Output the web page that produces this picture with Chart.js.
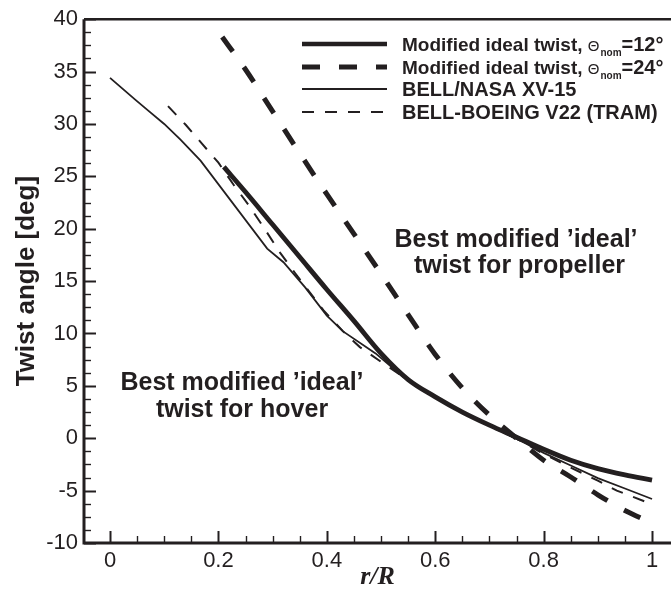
<!DOCTYPE html>
<html>
<head>
<meta charset="utf-8">
<script src="https://cdn.jsdelivr.net/npm/chart.js@4.4.1/dist/chart.umd.min.js"></script>
<style>
  html, body { margin: 0; padding: 0; background: #fff; }
  #wrap { position: relative; width: 671px; height: 593px; }
</style>
</head>
<body>
<div id="wrap"><canvas id="chart"></canvas></div>
<script>
// radial station r/R and blade twist [deg]
const rIdeal12 = [0.21, 0.25, 0.30, 0.35, 0.40, 0.45, 0.50, 0.55, 0.60, 0.65, 0.70, 0.75, 0.80, 0.85, 0.90, 0.95, 1.00]
const twistIdeal12 = [25.9, 23.5, 20.4, 17.3, 14.2, 11.2, 8.1, 5.6, 3.95, 2.5, 1.25, 0.1, -1.05, -2.1, -2.9, -3.5, -4.0]

const rIdeal24 = [0.207, 0.25, 0.30, 0.35, 0.40, 0.45, 0.50, 0.55, 0.60, 0.65, 0.70, 0.75, 0.80, 0.85, 0.90, 0.95, 1.00]
const twistIdeal24 = [38.3, 35.2, 31.2, 27.2, 23.3, 19.5, 15.7, 11.8, 8.0, 4.8, 2.2, 0.0, -2.1, -3.7, -5.4, -6.9, -8.1]

const rXV15 = [0.0, 0.047, 0.07, 0.10, 0.13, 0.167, 0.29, 0.32, 0.36, 0.40, 0.43, 0.49, 0.54, 0.60, 0.65, 0.70, 0.76, 0.80, 0.85, 0.90, 0.95, 1.00]
const twistXV15 = [34.4, 32.3, 31.3, 30.0, 28.5, 26.5, 18.1, 16.8, 14.4, 11.7, 10.2, 8.1, 5.9, 3.9, 2.5, 1.2, -0.3, -1.4, -2.6, -3.8, -4.8, -5.8]

const rV22 = [0.107, 0.14, 0.17, 0.20, 0.228, 0.255, 0.28, 0.314, 0.341, 0.363, 0.394, 0.43, 0.461, 0.50, 0.54, 0.60, 0.65, 0.70, 0.76, 0.80, 0.85, 0.90, 0.935, 1.00]
const twistV22 = [31.7, 29.9, 28.1, 26.3, 24.2, 22.3, 20.4, 17.7, 15.8, 14.3, 12.2, 10.2, 8.7, 7.3, 5.9, 3.9, 2.5, 1.2, -0.3, -1.5, -2.8, -4.05, -5.0, -6.3]

const xTicks = [0, 0.2, 0.4, 0.6, 0.8, 1]
const yTicks = [-10, -5, 0, 5, 10, 15, 20, 25, 30, 35, 40]

const INK = "#231f20"
const SANS = '"Liberation Sans", Arial, Helvetica, sans-serif'

const points = (xs, ys) => xs.map((x, i) => ({ x, y: ys[i] }))

const line = (data, width, dash, smooth) => ({
  data,
  borderColor: INK,
  borderWidth: width,
  borderDash: dash,
  pointRadius: 0,
  cubicInterpolationMode: smooth ? "monotone" : "default",
  tension: smooth ? 0.4 : 0,
  fill: false,
})

// frame and inward tick marks
const framePlugin = {
  id: "frame",
  afterDraw(chart) {
    const { ctx, chartArea: a, scales: { x, y } } = chart
    ctx.save()
    ctx.strokeStyle = INK
    ctx.lineCap = "butt"

    for (let v = 0; v <= 1.0001; v += 0.05) {
      const major = Math.abs(v / 0.2 - Math.round(v / 0.2)) < 1e-6
      const px = Math.round(x.getPixelForValue(v)) + 0.5
      ctx.lineWidth = major ? 2 : 1.4
      ctx.beginPath()
      ctx.moveTo(px, a.bottom)
      ctx.lineTo(px, a.bottom - (major ? 12 : 7))
      ctx.stroke()
    }
    for (let v = -10; v <= 40.001; v += 1.25) {
      const major = Math.abs(v / 5 - Math.round(v / 5)) < 1e-6
      const py = Math.round(y.getPixelForValue(v)) + 0.5
      ctx.lineWidth = major ? 2 : 1.4
      ctx.beginPath()
      ctx.moveTo(a.left, py)
      ctx.lineTo(a.left + (major ? 12 : 7), py)
      ctx.stroke()
    }

    ctx.lineWidth = 3
    ctx.beginPath()
    ctx.moveTo(a.left, a.top)
    ctx.lineTo(a.left, a.bottom)
    ctx.lineTo(a.right, a.bottom)
    ctx.stroke()
    ctx.lineWidth = 2.5
    ctx.beginPath()
    ctx.moveTo(a.left, a.top)
    ctx.lineTo(a.right, a.top)
    ctx.stroke()
    ctx.restore()
  },
}

// legend with subscripts, and the two text notes
const notesPlugin = {
  id: "notes",
  afterDatasetsDraw(chart) {
    const { ctx } = chart
    ctx.save()
    ctx.fillStyle = INK
    ctx.strokeStyle = INK
    ctx.textBaseline = "alphabetic"

    const rows = [
      { y: 44, width: 4.5, dash: [], nom: "12" },
      { y: 67, width: 5, dash: [18, 19], nom: "24" },
      { y: 89, width: 1.8, dash: [], text: "BELL/NASA XV-15" },
      { y: 112, width: 2, dash: [12, 11], text: "BELL-BOEING V22 (TRAM)" },
    ]
    rows.forEach((row) => {
      ctx.lineWidth = row.width
      ctx.setLineDash(row.dash)
      ctx.beginPath()
      ctx.moveTo(302, row.y)
      ctx.lineTo(387, row.y)
      ctx.stroke()
      ctx.setLineDash([])

      const base = row.y + 7
      let x = 402
      ctx.textAlign = "left"
      if (row.text) {
        ctx.font = `bold 20px ${SANS}`
        ctx.fillText(row.text, x, base)
        return
      }
      ctx.font = `bold 19px ${SANS}`
      ctx.fillText("Modified ideal twist, ", x, base)
      x += ctx.measureText("Modified ideal twist, ").width
      ctx.font = `15px ${SANS}`
      ctx.fillText("Θ", x, base)
      x += ctx.measureText("Θ").width + 1
      ctx.font = `bold 10px ${SANS}`
      ctx.fillText("nom", x, base + 5)
      x += ctx.measureText("nom").width
      ctx.font = `bold 20px ${SANS}`
      ctx.fillText(`=${row.nom}°`, x, base)
    })

    ctx.font = `bold 25px ${SANS}`
    ctx.textAlign = "center"
    ctx.textBaseline = "middle"
    ctx.fillText("Best modified ’ideal’", 516, 240)
    ctx.fillText(" twist for propeller", 516, 266)
    ctx.fillText("Best modified ’ideal’", 242, 383)
    ctx.fillText("twist for hover", 242, 410)
    ctx.restore()
  },
}

new Chart(document.getElementById("chart"), {
  type: "line",
  data: {
    datasets: [
      line(points(rIdeal12, twistIdeal12), 4.8, [], true),
      line(points(rIdeal24, twistIdeal24), 5, [18, 19], true),
      line(points(rXV15, twistXV15), 1.8, [], false),
      line(points(rV22, twistV22), 2, [12, 11], false),
    ],
  },
  options: {
    responsive: true,
    maintainAspectRatio: false,
    animation: false,
    layout: { padding: { top: 15, left: 0, right: 0, bottom: 0 } },
    plugins: { legend: { display: false }, tooltip: { enabled: false } },
    scales: {
      x: {
        type: "linear",
        min: -0.048,
        max: 1.035,
        afterBuildTicks: (s) => { s.ticks = xTicks.map((value) => ({ value })) },
        afterFit: (s) => { s.height = 50 },
        grid: { display: false, drawTicks: false },
        border: { display: false },
        ticks: {
          color: INK,
          padding: 5,
          font: { family: SANS, size: 22 },
          callback: (v) => String(+v.toFixed(1)),
        },
        title: {
          display: true,
          text: "r/R",
          color: INK,
          padding: 0,
          font: { family: '"Liberation Serif", "Times New Roman", serif', size: 26, style: "italic", weight: "bold" },
        },
      },
      y: {
        min: -10,
        max: 40,
        afterBuildTicks: (s) => { s.ticks = yTicks.map((value) => ({ value })) },
        afterFit: (s) => { s.width = 84 },
        grid: { display: false, drawTicks: false },
        border: { display: false },
        ticks: {
          color: INK,
          padding: 6,
          font: { family: SANS, size: 22 },
          callback: (v) => String(v),
        },
        title: {
          display: true,
          text: "Twist angle [deg]",
          color: INK,
          padding: { top: 11, bottom: 0 },
          font: { family: SANS, size: 26, weight: "bold" },
        },
      },
    },
  },
  plugins: [framePlugin, notesPlugin],
})
</script>
</body>
</html>
